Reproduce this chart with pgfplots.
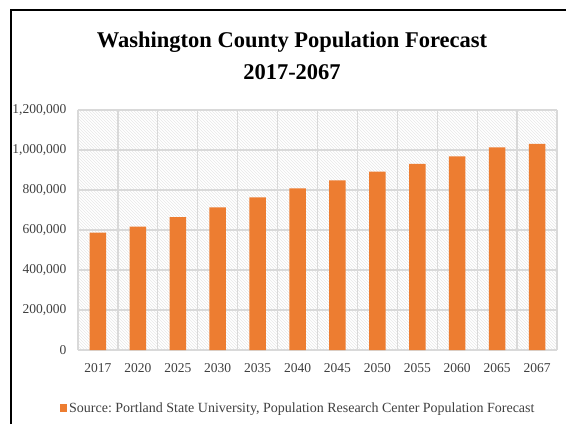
\documentclass[border=0pt]{standalone}
\usepackage{pgfplots}
\pgfplotsset{compat=1.18}
\usetikzlibrary{patterns}
\usepackage{fontspec}
\setmainfont{Liberation Serif}
\frenchspacing
\definecolor{barorange}{HTML}{ED7D31}
\definecolor{gridgray}{HTML}{D9D9D9}
\definecolor{ticktext}{HTML}{404040}
\begin{document}
\begin{tikzpicture}[x=1pt,y=1pt]
\useasboundingbox (0,0) rectangle (566,424);
\fill[white] (0,0) rectangle (566,424);
\begin{axis}[
  at={(78pt,74pt)}, anchor=south west,
  width=479pt, height=240pt, scale only axis,
  axis background/.style={pattern=north west lines, pattern color=black!9},
  ymin=0, ymax=1200000,
  ytick={0,200000,400000,600000,800000,1000000,1200000},
  scaled y ticks=false,
  /pgf/number format/fixed,
  /pgf/number format/1000 sep={,},
  /pgf/number format/assume math mode=true,
  xmin=-0.5, xmax=11.5,
  xtick={0,1,2,3,4,5,6,7,8,9,10,11},
  xticklabels={2017,2020,2025,2030,2035,2040,2045,2050,2055,2060,2065,2067},
  minor xtick={-0.5,0.5,1.5,2.5,3.5,4.5,5.5,6.5,7.5,8.5,9.5,10.5,11.5},
  xminorgrids=true, ymajorgrids=true, xmajorgrids=false,
  minor grid style={gridgray, line width=1.3pt},
  major grid style={gridgray, line width=1.3pt},
  axis line style={draw=none},
  major tick length=0pt, minor tick length=0pt,
  tick label style={font=\fontsize{13.5}{15}\selectfont, text=ticktext},
  yticklabel style={xshift=-8pt},
  xticklabel style={yshift=-10pt},
  legend style={at={(0.46,-0.242)}, anchor=center, draw=none, fill=none,
    font=\fontsize{14}{16}\selectfont, text=ticktext},
  ybar, bar width=16.5pt,
]
\addplot[fill=barorange, draw=none,
  legend image code/.code={\fill[barorange] (0pt,-4pt) rectangle (7pt,4pt);}] coordinates {
  (0,587000) (1,617000) (2,665000) (3,713000) (4,763000) (5,808000)
  (6,848000) (7,892000) (8,930000) (9,968000) (10,1013000) (11,1030000)
};
\addlegendentry{Source: Portland State University, Population Research Center Population Forecast}
\end{axis}
\node[font=\bfseries\fontsize{22.5}{32}\selectfont, align=center] at (292,368) {Washington County Population Forecast\\2017-2067};
\draw[line width=2pt] (11,0) -- (11,414) -- (566,414);
\end{tikzpicture}
\end{document}
